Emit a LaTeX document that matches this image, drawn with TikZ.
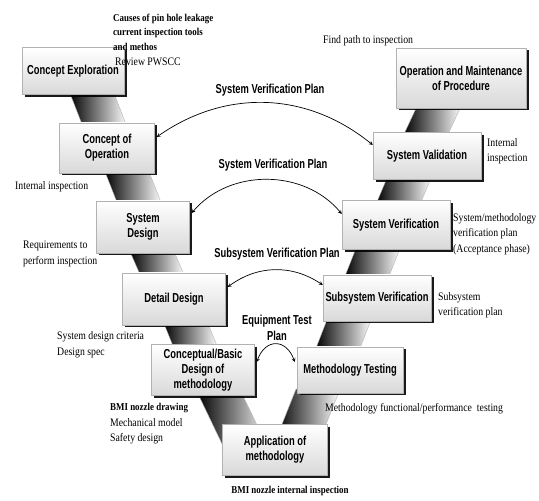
\documentclass[tikz,border=0pt]{standalone}
\usepackage{fontspec}
\newfontfamily\boxfont[FakeStretch=0.72]{Liberation Sans}
\newfontfamily\notefont[FakeStretch=0.85]{Liberation Serif}
\usetikzlibrary{shadows,backgrounds}

\newcommand{\band}[5]{%
  \path[band] ([xshift=#3-22pt,yshift=4pt]#1.south) -- ([xshift=#3+22pt,yshift=4pt]#1.south)
    -- ([xshift=#4+22pt,yshift=-#5]#2.north) -- ([xshift=#4-22pt,yshift=-#5]#2.north) -- cycle;}

\begin{document}
\begin{tikzpicture}[x=1pt, y=1pt, >=stealth]
        \tikzset{stage/.style = {draw=gray!60, top color=white, bottom color=gray!30,
            align=center, inner sep=2pt,
            font=\boxfont\bfseries\fontsize{13}{15}\selectfont,
            drop shadow={shadow xshift=2.5pt, shadow yshift=-2.5pt, fill=black, opacity=0.9}},
          plan/.style = {font=\boxfont\bfseries\fontsize{13}{16}\selectfont, align=center},
          note/.style = {font=\notefont\fontsize{11.5}{15.5}\selectfont,
            align=left, anchor=west, inner sep=0pt},
          boldnote/.style = {note, font=\notefont\bfseries\fontsize{10.5}{14.5}\selectfont},
          band/.style = {left color=black, middle color=black!85, right color=white,
            draw=gray!60, line width=0.4pt},
          link/.style = {<->, line width=0.7pt}}
        \useasboundingbox (0,0) rectangle (539,501);
        \node[stage, minimum width=102, minimum height=47] (CE) at (73,430) {Concept Exploration};
        \node[stage, minimum width=95, minimum height=50] (CO) at (107,353) {Concept of\\Operation};
        \node[stage, minimum width=93, minimum height=52] (SD) at (143,274) {System\\Design};
        \node[stage, minimum width=103, minimum height=52] (DD) at (174,202) {Detail Design};
        \node[stage, minimum width=103, minimum height=51] (CB) at (203,131) {Conceptual/Basic\\Design of\\methodology};
        \node[stage, minimum width=105, minimum height=51] (AM) at (275,51) {Application of\\methodology};
        \node[stage, minimum width=106, minimum height=46] (MT) at (350,131) {Methodology Testing};
        \node[stage, minimum width=108, minimum height=46] (SSV) at (377,203) {Subsystem Verification};
        \node[stage, minimum width=108, minimum height=49] (SV) at (396,276) {System Verification};
        \node[stage, minimum width=108, minimum height=47] (SVL) at (427,345) {System Validation};
        \node[stage, minimum width=130, minimum height=60] (OM) at (461,423) {Operation and Maintenance\\of Procedure};
        \begin{scope}[on background layer]
          \band{CE}{CO}{18pt}{-2pt}{4pt}
          \band{CO}{SD}{19pt}{-3pt}{4pt}
          \band{SD}{DD}{8pt}{-11pt}{4pt}
          \band{DD}{CB}{11pt}{-7pt}{4pt}
          \band{CB}{AM}{16pt}{-26pt}{30pt}
          \band{OM}{SVL}{-21pt}{-2pt}{4pt}
          \band{SVL}{SV}{-17pt}{2pt}{4pt}
          \band{SV}{SSV}{-17pt}{-11pt}{4pt}
          \band{SSV}{MT}{-27pt}{-13pt}{4pt}
          \band{MT}{AM}{-32pt}{23pt}{15pt}
        \end{scope}
        \draw[link] ([xshift=2pt,yshift=11pt]CO.east) to[bend left=37] ([yshift=11pt]SVL.west);
        \draw[link] ([xshift=2pt,yshift=14pt]SD.east) to[bend left=50] ([yshift=11pt]SV.west);
        \draw[link] ([xshift=2pt,yshift=12pt]DD.east) to[bend left=35] ([yshift=13pt]SSV.west);
        \draw[link] ([xshift=2pt,yshift=8pt]CB.east) to[out=70, in=110, looseness=1.7] ([xshift=-2pt,yshift=8pt]MT.west);
        \node[plan] (P1) at (270,411) {System Verification Plan};
        \node[plan] (P2) at (273,336) {System Verification Plan};
        \node[plan] (P3) at (277,247) {Subsystem Verification Plan};
        \node[plan] (P4) at (277,173) {Equipment Test\\Plan};
        \node[boldnote] (N1) at (113,469) {Causes of pin hole leakage\\current inspection tools\\and methos};
        \node[note] (N2) at (115,439) {Review PWSCC};
        \node[note] (N3) at (323,460) {Find path to inspection};
        \node[note] (N4) at (487,350) {Internal\\inspection};
        \node[note] (N5) at (15,314) {Internal inspection};
        \node[note] (N6) at (23,247) {Requirements to\\perform inspection};
        \node[note] (N7) at (453,267) {System/methodology\\verification plan\\(Acceptance phase)};
        \node[note] (N8) at (438,196) {Subsystem\\verification plan};
        \node[note] (N9) at (57,156) {System design criteria\\Design spec};
        \node[note] (N10) at (110,77) {{\bfseries\fontsize{10.5}{15}\selectfont BMI nozzle drawing}\\Mechanical model\\Safety design};
        \node[note] (N11) at (325,92) {Methodology functional/performance\ \ testing};
        \node[boldnote, anchor=center] (N12) at (290,10) {BMI nozzle internal inspection};
      \end{tikzpicture}
\end{document}
